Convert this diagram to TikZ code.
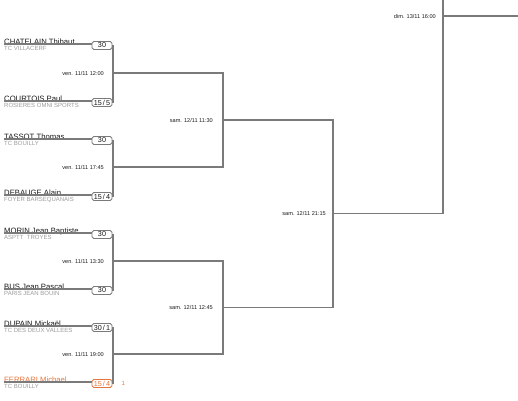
\documentclass[tikz,border=0pt]{standalone}
\usepackage{fontspec}
\setmainfont{Liberation Sans}
\usetikzlibrary{positioning}
\definecolor{linegray}{HTML}{7A7A7A}
\definecolor{clubgray}{HTML}{9A9A9A}
\definecolor{namecol}{HTML}{1A1A1A}
\definecolor{lostcol}{HTML}{E2763E}

\begin{document}
\begin{tikzpicture}[x=1pt,y=-1pt,
  line/.style={draw=linegray, line width=1.25pt},
  player/.style={anchor=base west, inner sep=0pt, text=namecol, font=\fontsize{7.7}{8}\selectfont},
  club/.style={anchor=base west, inner sep=0pt, text=clubgray, font=\fontsize{6}{6}\selectfont},
  score/.style={draw=linegray, line width=0.9pt, fill=white, rounded corners=1.8pt, minimum width=20pt,
    minimum height=8pt, inner sep=0pt, text=namecol, font=\fontsize{7.2}{7}\selectfont},
  date/.style={inner sep=0pt, text=namecol, font=\fontsize{5.6}{6}\selectfont}]
\useasboundingbox (0,0) rectangle (518,400);
% players of the first round
\foreach \nm/\cl/\sc/\y [count=\i] in {
  CHATELAIN Thibaut/TC VILLACERF/30/44,
  COURTOIS Paul/ROSIERES OMNI SPORTS/{15\,/\,5}/101,
  TASSOT Thomas/TC BOUILLY/30/139,
  DEBAUGE Alain/FOYER BARSEQUANAIS/{15\,/\,4}/195,
  MORIN Jean Baptiste/ASPTT\ \ TROYES/30/233,
  BUS Jean Pascal/PARIS JEAN BOUIN/30/289,
  DUPAIN Mickaël/TC DES DEUX VALLEES/{30\,/\,1}/326}{
  \node[player] (p\i) at (4,\y+0.5) {\nm};
  \node[club] (c\i) at (4,\y+6.5) {\cl};
  \node[score] (s\i) at (102,\y+1.5) {\sc};
  \coordinate (u\i) at (4,\y);
  \draw[line] (u\i) -- (u\i -| s\i.west);
}
\node[player, text=lostcol] (p8) at (4,382.5) {FERRARI Michael};
\node[club] (c8) at (4,388.5) {TC BOUILLY};
\node[score, draw=lostcol, text=lostcol] (s8) at (102,383.5) {15\,/\,4};
\coordinate (u8) at (4,382);
\draw[line] (u8) -- (u8 -| s8.west);
\node[inner sep=0pt, text=lostcol, font=\fontsize{6}{6}\selectfont, right=9pt of s8] (w8) {1};

% matches
\coordinate (m1) at (113,73);
\coordinate (m2) at (113,167);
\coordinate (m3) at (113,261);
\coordinate (m4) at (113,354);
\coordinate (m5) at (223,120);
\coordinate (m6) at (223,307.5);
\coordinate (m7) at (333,213.5);
\coordinate (m8) at (443,16);
\coordinate (top) at (443,0);
\coordinate (out) at (518,16);

\draw[line] (s1.east) -| (m1) (s2.east) -| (m1);
\draw[line] (s3.east) -| (m2) (s4.east) -| (m2);
\draw[line] (s5.east) -| (m3) (s6.east) -| (m3);
\draw[line] (s7.east) -| (m4) (s8.east) -| (m4);
\draw[line] (m1) -| (m5) (m2) -| (m5);
\draw[line] (m3) -| (m6) (m4) -| (m6);
\draw[line] (m5) -| (m7) (m6) -| (m7);
\draw[line] (m7) -| (top);
\draw[line] (m8) -- (out);

\node[date, left=9pt of m1] (d1) {ven. 11/11 12:00};
\node[date, left=9pt of m2] (d2) {ven. 11/11 17:45};
\node[date, left=9pt of m3] (d3) {ven. 11/11 13:30};
\node[date, left=9pt of m4] (d4) {ven. 11/11 19:00};
\node[date, left=10pt of m5] (d5) {sam. 12/11 11:30};
\node[date, left=10pt of m6] (d6) {sam. 12/11 12:45};
\node[date, left=7pt of m7] (d7) {sam. 12/11 21:15};
\node[date, left=7pt of m8] (d8) {dim. 13/11 16:00};
\end{tikzpicture}
\end{document}
